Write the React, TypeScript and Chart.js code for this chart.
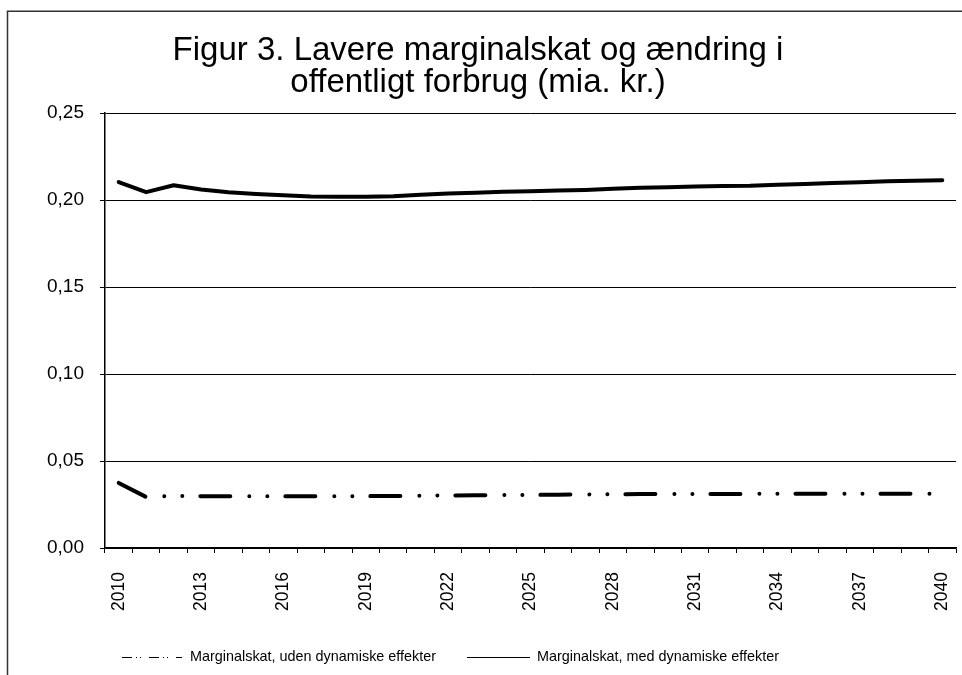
import React, { useEffect, useRef } from "react";
import { Chart, registerables } from "chart.js";

Chart.register(...registerables);

const years: string[] = [
  "2010","2011","2012","2013","2014","2015","2016","2017","2018","2019","2020",
  "2021","2022","2023","2024","2025","2026","2027","2028","2029","2030",
  "2031","2032","2033","2034","2035","2036","2037","2038","2039","2040",
];

const udenDynamiske: number[] = [
  0.0374, 0.0293, 0.0300, 0.0298, 0.0298, 0.0298, 0.0298, 0.0298, 0.0298, 0.0298, 0.0299,
  0.0300, 0.0302, 0.0303, 0.0304, 0.0305, 0.0306, 0.0308, 0.0309, 0.0310, 0.0310,
  0.0311, 0.0311, 0.0311, 0.0312, 0.0312, 0.0312, 0.0312, 0.0312, 0.0312, 0.0312,
];

const medDynamiske: number[] = [
  0.2103, 0.2045, 0.2085, 0.2060, 0.2045, 0.2035, 0.2027, 0.2020, 0.2018, 0.2018, 0.2022,
  0.2030, 0.2038, 0.2042, 0.2047, 0.2050, 0.2055, 0.2058, 0.2064, 0.2070, 0.2073,
  0.2078, 0.2080, 0.2082, 0.2088, 0.2092, 0.2098, 0.2102, 0.2108, 0.2111, 0.2113,
];

const seriesLabels: string[] = [
  "Marginalskat, uden dynamiske effekter",
  "Marginalskat, med dynamiske effekter",
];

const titleLines: string[] = [
  "Figur 3. Lavere marginalskat og ændring i",
  "offentligt forbrug (mia. kr.)",
];

const yTicks: number[] = [0, 0.05, 0.1, 0.15, 0.2, 0.25];

const FONT = "'Liberation Sans', Arial, sans-serif";

const framePlugin = {
  id: "frame",
  beforeDraw(chart: any) {
    const ctx = chart.ctx;
    ctx.save();
    ctx.fillStyle = "#ffffff";
    ctx.fillRect(0, 0, chart.width, chart.height);
    ctx.strokeStyle = "#333333";
    ctx.lineWidth = 1.5;
    ctx.beginPath();
    ctx.moveTo(7.5, chart.height + 2);
    ctx.lineTo(7.5, 11.25);
    ctx.lineTo(chart.width + 2, 11.25);
    ctx.stroke();
    ctx.restore();
  },
};

const legendPlugin = {
  id: "customLegend",
  afterDraw(chart: any) {
    const ctx = chart.ctx;
    const ds = chart.data.datasets;
    const y = 657.5;
    ctx.save();
    ctx.font = `14.4px ${FONT}`;
    ctx.fillStyle = "#000";
    ctx.textBaseline = "middle";
    ctx.textAlign = "left";
    ctx.strokeStyle = "#000";
    ctx.lineWidth = 1;
    ctx.setLineDash([10, 4, 1, 3, 1, 8]);
    ctx.beginPath();
    ctx.moveTo(122, y);
    ctx.lineTo(182, y);
    ctx.stroke();
    ctx.setLineDash([]);
    ctx.fillText(ds[0].label, 190, y);
    ctx.beginPath();
    ctx.moveTo(467, y);
    ctx.lineTo(530, y);
    ctx.stroke();
    ctx.fillText(ds[1].label, 537, y);
    ctx.restore();
  },
};

export default function App() {
  const canvasRef = useRef<HTMLCanvasElement | null>(null);

  useEffect(() => {
    if (!canvasRef.current) return;
    const chart = new Chart(canvasRef.current, {
      type: "line",
      data: {
        labels: years,
        datasets: [
          {
            label: seriesLabels[0],
            data: udenDynamiske,
            borderColor: "#000",
            borderWidth: 4,
            borderDash: [30, 19, 0.01, 18, 0.01, 18],
            borderCapStyle: "round",
            borderJoinStyle: "round",
            pointRadius: 0,
            tension: 0,
            fill: false,
          },
          {
            label: seriesLabels[1],
            data: medDynamiske,
            borderColor: "#000",
            borderWidth: 4,
            borderCapStyle: "round",
            borderJoinStyle: "round",
            pointRadius: 0,
            tension: 0,
            fill: false,
          },
        ],
      },
      options: {
        responsive: false,
        animation: false,
        layout: { padding: { top: 0, left: 0, right: 6, bottom: 47 } },
        plugins: {
          legend: { display: false },
          tooltip: { enabled: false },
          title: {
            display: true,
            text: titleLines,
            color: "#000",
            font: { family: FONT, size: 33, weight: "normal", lineHeight: 32 / 33 },
            padding: { top: 35, bottom: 14 },
          },
        },
        scales: {
          x: {
            type: "category",
            offset: true,
            grid: {
              offset: true,
              drawOnChartArea: false,
              drawTicks: true,
              tickLength: 5,
              color: "#000",
              lineWidth: 1,
            },
            border: { display: true, color: "#000", width: 1.5 },
            ticks: {
              autoSkip: false,
              maxRotation: 90,
              minRotation: 90,
              padding: 19,
              color: "#000",
              font: { family: FONT, size: 17.5 },
              callback: (_v: any, i: number) => (i % 3 === 0 ? years[i] : ""),
            },
            afterFit: (scale: any) => {
              scale.height = 80;
              scale.paddingLeft = 0;
              scale.paddingRight = 0;
            },
          },
          y: {
            min: 0,
            max: 0.25,
            afterBuildTicks: (scale: any) => {
              scale.ticks = yTicks.map((v) => ({ value: v }));
            },
            grid: {
              drawTicks: true,
              tickLength: 5,
              color: "#000",
              lineWidth: 1,
            },
            border: { display: true, color: "#000", width: 1.5 },
            ticks: {
              padding: 16,
              color: "#000",
              font: { family: FONT, size: 19 },
              callback: (v: any) => Number(v).toFixed(2).replace(".", ","),
            },
            afterFit: (scale: any) => {
              scale.width = 105;
              scale.paddingTop = 0;
              scale.paddingBottom = 0;
            },
          },
        },
      },
      plugins: [framePlugin, legendPlugin],
    });
    return () => chart.destroy();
  }, []);

  return (
    <div style={{ position: "fixed", left: 0, top: 0, width: 962, height: 675, overflow: "hidden", background: "#fff" }}>
      <canvas ref={canvasRef} width={962} height={675} style={{ display: "block" }} />
    </div>
  );
}
